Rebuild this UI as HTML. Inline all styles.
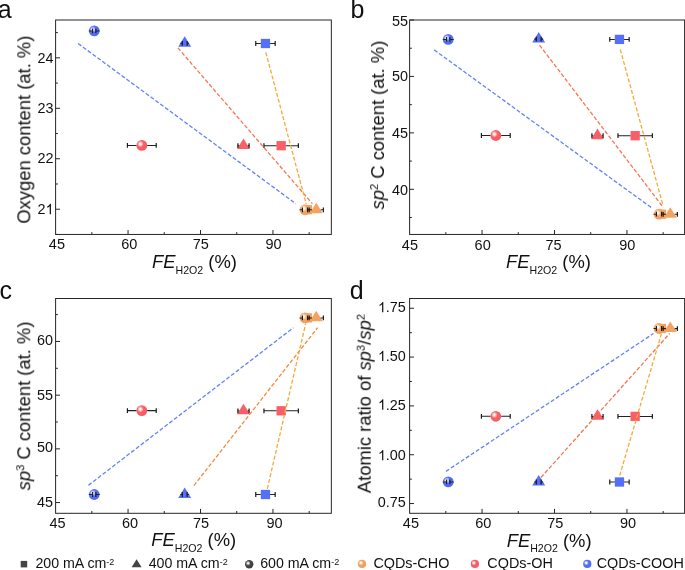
<!DOCTYPE html>
<html><head><meta charset="utf-8"><style>
html,body{margin:0;padding:0;background:#fff;width:685px;height:570px;overflow:hidden}
svg{display:block}
text{font-family:"Liberation Sans", sans-serif;fill:#111}
svg text{will-change:transform}
</style></head><body>
<svg width="685" height="570" viewBox="0 0 685 570">
<defs>
<radialGradient id="gB" cx="0.37" cy="0.37" r="0.66" fx="0.37" fy="0.37"><stop offset="0" stop-color="#ffffff"/><stop offset="0.12" stop-color="#f4f6ff"/><stop offset="0.45" stop-color="#5672fa"/><stop offset="1" stop-color="#4d69f4"/></radialGradient>
<radialGradient id="gR" cx="0.37" cy="0.37" r="0.66" fx="0.37" fy="0.37"><stop offset="0" stop-color="#ffffff"/><stop offset="0.12" stop-color="#fff2f3"/><stop offset="0.45" stop-color="#fa6068"/><stop offset="1" stop-color="#f55a63"/></radialGradient>
<radialGradient id="gO" cx="0.37" cy="0.37" r="0.66" fx="0.37" fy="0.37"><stop offset="0" stop-color="#ffffff"/><stop offset="0.12" stop-color="#fff8f2"/><stop offset="0.45" stop-color="#f5a465"/><stop offset="1" stop-color="#f09d5c"/></radialGradient>
<radialGradient id="gK" cx="0.37" cy="0.37" r="0.66" fx="0.37" fy="0.37"><stop offset="0" stop-color="#ffffff"/><stop offset="0.12" stop-color="#e8e8e8"/><stop offset="0.45" stop-color="#474747"/><stop offset="1" stop-color="#3c3c3c"/></radialGradient>
</defs>
<path d="M55.60,209.22 h4.4 M55.60,158.76 h4.4 M55.60,108.30 h4.4 M55.60,57.84 h4.4 M55.60,234.45 h2.3 M55.60,183.99 h2.3 M55.60,133.53 h2.3 M55.60,83.07 h2.3 M55.60,32.61 h2.3 M128.05,234.45 v-4.4 M200.50,234.45 v-4.4 M272.95,234.45 v-4.4 M91.83,234.45 v-2.3 M164.28,234.45 v-2.3 M236.72,234.45 v-2.3 M309.18,234.45 v-2.3" stroke="#262626" stroke-width="1" fill="none"/>
<text x="37.38" y="214.15" font-size="14.4">2</text>
<path d="M50.94,214.15 L49.71,214.15 L49.71,206.16 C49.06,206.78 48.13,207.38 47.19,207.74 L47.19,206.52 C48.49,205.94 49.57,204.93 50.14,203.84 L50.94,203.84 Z" fill="#111"/>
<text x="53.40" y="163.40" text-anchor="end" font-size="14.4">22</text>
<text x="53.40" y="113.10" text-anchor="end" font-size="14.4">23</text>
<text x="53.40" y="63.00" text-anchor="end" font-size="14.4">24</text>
<text x="56.90" y="248.75" text-anchor="middle" font-size="14.5">45</text>
<text x="129.35" y="248.75" text-anchor="middle" font-size="14.5">60</text>
<text x="200.70" y="248.75" text-anchor="middle" font-size="14.5">75</text>
<text x="273.55" y="248.75" text-anchor="middle" font-size="14.5">90</text>
<rect x="260.81" y="38.85" width="9.3" height="9.3" fill="#5470f8"/>
<rect x="276.51" y="141.05" width="9.3" height="9.3" fill="#f95f68"/>
<rect x="302.74" y="205.05" width="9.3" height="9.3" fill="#f4a361"/>
<path d="M184.71,36.20 L191.21,46.75 L178.21,46.75 Z" fill="#5470f8"/>
<path d="M243.49,138.50 L249.99,149.05 L236.99,149.05 Z" fill="#f95f68"/>
<path d="M316.28,202.70 L322.78,213.25 L309.78,213.25 Z" fill="#f4a361"/>
<circle cx="94.24" cy="30.90" r="5.4" fill="url(#gB)"/>
<circle cx="141.82" cy="145.40" r="5.4" fill="url(#gR)"/>
<circle cx="305.02" cy="209.80" r="5.4" fill="url(#gO)"/>
<path d="M255.76,43.50 L260.81,43.50 M275.16,43.50 L270.11,43.50" stroke="#222" stroke-width="1.05" fill="none"/>
<path d="M255.76,41.10 V45.90 M275.16,41.10 V45.90" stroke="#1a1a1a" stroke-width="1.2" fill="none"/>
<path d="M263.96,145.70 L276.51,145.70 M298.36,145.70 L285.81,145.70" stroke="#222" stroke-width="1.05" fill="none"/>
<path d="M263.96,143.30 V148.10 M298.36,143.30 V148.10" stroke="#1a1a1a" stroke-width="1.2" fill="none"/>
<path d="M182.31,43.30 L180.31,43.30 M187.11,43.30 L189.11,43.30" stroke="#222" stroke-width="1.05" fill="none"/>
<path d="M182.31,40.90 V45.70 M187.11,40.90 V45.70" stroke="#1a1a1a" stroke-width="1.2" fill="none"/>
<path d="M237.89,145.60 L239.09,145.60 M249.09,145.60 L247.89,145.60" stroke="#222" stroke-width="1.05" fill="none"/>
<path d="M237.89,143.20 V148.00 M249.09,143.20 V148.00" stroke="#1a1a1a" stroke-width="1.2" fill="none"/>
<path d="M309.18,209.80 L311.88,209.80 M323.38,209.80 L320.68,209.80" stroke="#222" stroke-width="1.05" fill="none"/>
<path d="M309.18,207.40 V212.20 M323.38,207.40 V212.20" stroke="#1a1a1a" stroke-width="1.2" fill="none"/>
<path d="M92.64,30.90 L88.84,30.90 M95.84,30.90 L99.64,30.90" stroke="#222" stroke-width="1.05" fill="none"/>
<path d="M92.64,28.50 V33.30 M95.84,28.50 V33.30" stroke="#1a1a1a" stroke-width="1.2" fill="none"/>
<path d="M127.42,145.40 L136.42,145.40 M156.22,145.40 L147.22,145.40" stroke="#222" stroke-width="1.05" fill="none"/>
<path d="M127.42,143.00 V147.80 M156.22,143.00 V147.80" stroke="#1a1a1a" stroke-width="1.2" fill="none"/>
<path d="M302.42,209.80 L299.62,209.80 M307.62,209.80 L310.42,209.80" stroke="#222" stroke-width="1.05" fill="none"/>
<path d="M302.42,207.40 V212.20 M307.62,207.40 V212.20" stroke="#1a1a1a" stroke-width="1.2" fill="none"/>
<line x1="78.1" y1="43.5" x2="295.8" y2="203.7" stroke="#6482f8" stroke-width="1.3" stroke-dasharray="4 2"/>
<line x1="177.9" y1="47.9" x2="312.4" y2="203.7" stroke="#f5764e" stroke-width="1.3" stroke-dasharray="4 2"/>
<line x1="265.8" y1="52.4" x2="306.3" y2="204.3" stroke="#f6a93a" stroke-width="1.3" stroke-dasharray="4 2"/>
<rect x="55.60" y="20.00" width="275.75" height="214.45" fill="none" stroke="#262626" stroke-width="1"/>
<path d="M409.60,189.30 h4.4 M409.60,132.87 h4.4 M409.60,76.43 h4.4 M409.60,20.00 h4.4 M409.60,217.52 h2.3 M409.60,161.09 h2.3 M409.60,104.65 h2.3 M409.60,48.22 h2.3 M482.05,234.45 v-4.4 M554.50,234.45 v-4.4 M626.95,234.45 v-4.4 M445.83,234.45 v-2.3 M518.27,234.45 v-2.3 M590.73,234.45 v-2.3 M663.18,234.45 v-2.3" stroke="#262626" stroke-width="1" fill="none"/>
<text x="407.90" y="194.50" text-anchor="end" font-size="14.4">40</text>
<text x="407.90" y="137.65" text-anchor="end" font-size="14.4">45</text>
<text x="407.90" y="80.70" text-anchor="end" font-size="14.4">50</text>
<text x="407.90" y="26.05" text-anchor="end" font-size="14.4">55</text>
<text x="409.90" y="249.95" text-anchor="middle" font-size="14.5">45</text>
<text x="482.65" y="249.95" text-anchor="middle" font-size="14.5">60</text>
<text x="553.60" y="249.95" text-anchor="middle" font-size="14.5">75</text>
<text x="627.25" y="249.95" text-anchor="middle" font-size="14.5">90</text>
<rect x="614.81" y="34.75" width="9.3" height="9.3" fill="#5470f8"/>
<rect x="630.51" y="131.05" width="9.3" height="9.3" fill="#f95f68"/>
<rect x="656.74" y="209.55" width="9.3" height="9.3" fill="#f4a361"/>
<path d="M538.71,32.00 L545.21,42.55 L532.21,42.55 Z" fill="#5470f8"/>
<path d="M597.49,128.60 L603.99,139.15 L590.99,139.15 Z" fill="#f95f68"/>
<path d="M670.28,207.20 L676.78,217.75 L663.78,217.75 Z" fill="#f4a361"/>
<circle cx="448.24" cy="39.40" r="5.4" fill="url(#gB)"/>
<circle cx="495.82" cy="135.50" r="5.4" fill="url(#gR)"/>
<circle cx="659.02" cy="214.20" r="5.4" fill="url(#gO)"/>
<path d="M609.76,39.40 L614.81,39.40 M629.16,39.40 L624.11,39.40" stroke="#222" stroke-width="1.05" fill="none"/>
<path d="M609.76,37.00 V41.80 M629.16,37.00 V41.80" stroke="#1a1a1a" stroke-width="1.2" fill="none"/>
<path d="M617.96,135.70 L630.51,135.70 M652.36,135.70 L639.81,135.70" stroke="#222" stroke-width="1.05" fill="none"/>
<path d="M617.96,133.30 V138.10 M652.36,133.30 V138.10" stroke="#1a1a1a" stroke-width="1.2" fill="none"/>
<path d="M536.31,39.10 L534.31,39.10 M541.11,39.10 L543.11,39.10" stroke="#222" stroke-width="1.05" fill="none"/>
<path d="M536.31,36.70 V41.50 M541.11,36.70 V41.50" stroke="#1a1a1a" stroke-width="1.2" fill="none"/>
<path d="M591.89,135.70 L593.09,135.70 M603.09,135.70 L601.89,135.70" stroke="#222" stroke-width="1.05" fill="none"/>
<path d="M591.89,133.30 V138.10 M603.09,133.30 V138.10" stroke="#1a1a1a" stroke-width="1.2" fill="none"/>
<path d="M663.18,214.30 L665.88,214.30 M677.38,214.30 L674.68,214.30" stroke="#222" stroke-width="1.05" fill="none"/>
<path d="M663.18,211.90 V216.70 M677.38,211.90 V216.70" stroke="#1a1a1a" stroke-width="1.2" fill="none"/>
<path d="M446.64,39.40 L442.84,39.40 M449.84,39.40 L453.64,39.40" stroke="#222" stroke-width="1.05" fill="none"/>
<path d="M446.64,37.00 V41.80 M449.84,37.00 V41.80" stroke="#1a1a1a" stroke-width="1.2" fill="none"/>
<path d="M481.42,135.50 L490.42,135.50 M510.22,135.50 L501.22,135.50" stroke="#222" stroke-width="1.05" fill="none"/>
<path d="M481.42,133.10 V137.90 M510.22,133.10 V137.90" stroke="#1a1a1a" stroke-width="1.2" fill="none"/>
<path d="M656.42,214.20 L653.62,214.20 M661.62,214.20 L664.42,214.20" stroke="#222" stroke-width="1.05" fill="none"/>
<path d="M656.42,211.80 V216.60 M661.62,211.80 V216.60" stroke="#1a1a1a" stroke-width="1.2" fill="none"/>
<line x1="434.2" y1="49.9" x2="651.2" y2="207.5" stroke="#6482f8" stroke-width="1.3" stroke-dasharray="4 2"/>
<line x1="539.5" y1="45.1" x2="663.3" y2="207.5" stroke="#f5764e" stroke-width="1.3" stroke-dasharray="4 2"/>
<line x1="620.3" y1="49.5" x2="663.0" y2="205.3" stroke="#f6a93a" stroke-width="1.3" stroke-dasharray="4 2"/>
<rect x="409.60" y="20.00" width="275.00" height="214.45" fill="none" stroke="#262626" stroke-width="1"/>
<path d="M55.60,502.56 h4.4 M55.60,448.86 h4.4 M55.60,395.16 h4.4 M55.60,341.46 h4.4 M55.60,475.71 h2.3 M55.60,422.01 h2.3 M55.60,368.31 h2.3 M55.60,314.61 h2.3 M128.05,513.30 v-4.4 M200.50,513.30 v-4.4 M272.95,513.30 v-4.4 M91.83,513.30 v-2.3 M164.28,513.30 v-2.3 M236.72,513.30 v-2.3 M309.18,513.30 v-2.3" stroke="#262626" stroke-width="1" fill="none"/>
<text x="52.90" y="506.90" text-anchor="end" font-size="14.4">45</text>
<text x="52.90" y="452.05" text-anchor="end" font-size="14.4">50</text>
<text x="52.90" y="399.50" text-anchor="end" font-size="14.4">55</text>
<text x="52.90" y="344.70" text-anchor="end" font-size="14.4">60</text>
<text x="57.50" y="527.70" text-anchor="middle" font-size="14.5">45</text>
<text x="130.05" y="527.70" text-anchor="middle" font-size="14.5">60</text>
<text x="201.10" y="527.70" text-anchor="middle" font-size="14.5">75</text>
<text x="274.45" y="527.70" text-anchor="middle" font-size="14.5">90</text>
<rect x="260.81" y="489.85" width="9.3" height="9.3" fill="#5470f8"/>
<rect x="276.51" y="406.15" width="9.3" height="9.3" fill="#f95f68"/>
<rect x="302.74" y="313.25" width="9.3" height="9.3" fill="#f4a361"/>
<path d="M184.71,487.40 L191.21,497.95 L178.21,497.95 Z" fill="#5470f8"/>
<path d="M243.49,403.70 L249.99,414.25 L236.99,414.25 Z" fill="#f95f68"/>
<path d="M316.28,310.80 L322.78,321.35 L309.78,321.35 Z" fill="#f4a361"/>
<circle cx="94.24" cy="494.50" r="5.4" fill="url(#gB)"/>
<circle cx="141.82" cy="410.60" r="5.4" fill="url(#gR)"/>
<circle cx="305.02" cy="317.90" r="5.4" fill="url(#gO)"/>
<path d="M255.76,494.50 L260.81,494.50 M275.16,494.50 L270.11,494.50" stroke="#222" stroke-width="1.05" fill="none"/>
<path d="M255.76,492.10 V496.90 M275.16,492.10 V496.90" stroke="#1a1a1a" stroke-width="1.2" fill="none"/>
<path d="M263.96,410.80 L276.51,410.80 M298.36,410.80 L285.81,410.80" stroke="#222" stroke-width="1.05" fill="none"/>
<path d="M263.96,408.40 V413.20 M298.36,408.40 V413.20" stroke="#1a1a1a" stroke-width="1.2" fill="none"/>
<path d="M182.31,494.50 L180.31,494.50 M187.11,494.50 L189.11,494.50" stroke="#222" stroke-width="1.05" fill="none"/>
<path d="M182.31,492.10 V496.90 M187.11,492.10 V496.90" stroke="#1a1a1a" stroke-width="1.2" fill="none"/>
<path d="M237.89,410.80 L239.09,410.80 M249.09,410.80 L247.89,410.80" stroke="#222" stroke-width="1.05" fill="none"/>
<path d="M237.89,408.40 V413.20 M249.09,408.40 V413.20" stroke="#1a1a1a" stroke-width="1.2" fill="none"/>
<path d="M309.18,317.90 L311.88,317.90 M323.38,317.90 L320.68,317.90" stroke="#222" stroke-width="1.05" fill="none"/>
<path d="M309.18,315.50 V320.30 M323.38,315.50 V320.30" stroke="#1a1a1a" stroke-width="1.2" fill="none"/>
<path d="M92.64,494.50 L88.84,494.50 M95.84,494.50 L99.64,494.50" stroke="#222" stroke-width="1.05" fill="none"/>
<path d="M92.64,492.10 V496.90 M95.84,492.10 V496.90" stroke="#1a1a1a" stroke-width="1.2" fill="none"/>
<path d="M127.42,410.60 L136.42,410.60 M156.22,410.60 L147.22,410.60" stroke="#222" stroke-width="1.05" fill="none"/>
<path d="M127.42,408.20 V413.00 M156.22,408.20 V413.00" stroke="#1a1a1a" stroke-width="1.2" fill="none"/>
<path d="M302.42,317.90 L299.62,317.90 M307.62,317.90 L310.42,317.90" stroke="#222" stroke-width="1.05" fill="none"/>
<path d="M302.42,315.50 V320.30 M307.62,315.50 V320.30" stroke="#1a1a1a" stroke-width="1.2" fill="none"/>
<line x1="88.4" y1="485.3" x2="293.4" y2="327.7" stroke="#6482f8" stroke-width="1.3" stroke-dasharray="4 2"/>
<line x1="193.9" y1="485.6" x2="317.6" y2="327.7" stroke="#f8873a" stroke-width="1.3" stroke-dasharray="4 2"/>
<line x1="267.3" y1="488.8" x2="305.7" y2="323.5" stroke="#f6a93a" stroke-width="1.3" stroke-dasharray="4 2"/>
<rect x="55.60" y="298.50" width="275.75" height="214.80" fill="none" stroke="#262626" stroke-width="1"/>
<path d="M409.60,503.54 h4.4 M409.60,454.72 h4.4 M409.60,405.90 h4.4 M409.60,357.08 h4.4 M409.60,308.26 h4.4 M409.60,479.13 h2.3 M409.60,430.31 h2.3 M409.60,381.49 h2.3 M409.60,332.67 h2.3 M482.05,513.30 v-4.4 M554.50,513.30 v-4.4 M626.95,513.30 v-4.4 M445.83,513.30 v-2.3 M518.27,513.30 v-2.3 M590.73,513.30 v-2.3 M663.18,513.30 v-2.3" stroke="#262626" stroke-width="1" fill="none"/>
<text x="405.80" y="507.10" text-anchor="end" font-size="14.4">0.75</text>
<path d="M383.32,460.30 L382.09,460.30 L382.09,452.31 C381.45,452.93 380.51,453.53 379.57,453.89 L379.57,452.67 C380.87,452.09 381.95,451.08 382.53,449.99 L383.32,449.99 Z" fill="#111"/>
<text x="385.78" y="460.30" font-size="14.4">.00</text>
<path d="M383.32,409.65 L382.09,409.65 L382.09,401.66 C381.45,402.28 380.51,402.88 379.57,403.24 L379.57,402.02 C380.87,401.44 381.95,400.43 382.53,399.34 L383.32,399.34 Z" fill="#111"/>
<text x="385.78" y="409.65" font-size="14.4">.25</text>
<path d="M383.32,361.10 L382.09,361.10 L382.09,353.11 C381.45,353.73 380.51,354.33 379.57,354.69 L379.57,353.47 C380.87,352.89 381.95,351.88 382.53,350.79 L383.32,350.79 Z" fill="#111"/>
<text x="385.78" y="361.10" font-size="14.4">.50</text>
<path d="M383.32,312.35 L382.09,312.35 L382.09,304.36 C381.45,304.98 380.51,305.58 379.57,305.94 L379.57,304.72 C380.87,304.14 381.95,303.13 382.53,302.04 L383.32,302.04 Z" fill="#111"/>
<text x="385.78" y="312.35" font-size="14.4">.75</text>
<text x="410.90" y="527.60" text-anchor="middle" font-size="14.5">45</text>
<text x="483.35" y="527.60" text-anchor="middle" font-size="14.5">60</text>
<text x="555.20" y="527.60" text-anchor="middle" font-size="14.5">75</text>
<text x="627.95" y="527.60" text-anchor="middle" font-size="14.5">90</text>
<rect x="614.81" y="477.35" width="9.3" height="9.3" fill="#5470f8"/>
<rect x="630.51" y="411.75" width="9.3" height="9.3" fill="#f95f68"/>
<rect x="656.74" y="323.85" width="9.3" height="9.3" fill="#f4a361"/>
<path d="M538.71,474.90 L545.21,485.45 L532.21,485.45 Z" fill="#5470f8"/>
<path d="M597.49,409.30 L603.99,419.85 L590.99,419.85 Z" fill="#f95f68"/>
<path d="M670.28,321.50 L676.78,332.05 L663.78,332.05 Z" fill="#f4a361"/>
<circle cx="448.24" cy="481.90" r="5.4" fill="url(#gB)"/>
<circle cx="495.82" cy="416.30" r="5.4" fill="url(#gR)"/>
<circle cx="659.02" cy="328.50" r="5.4" fill="url(#gO)"/>
<path d="M609.76,482.00 L614.81,482.00 M629.16,482.00 L624.11,482.00" stroke="#222" stroke-width="1.05" fill="none"/>
<path d="M609.76,479.60 V484.40 M629.16,479.60 V484.40" stroke="#1a1a1a" stroke-width="1.2" fill="none"/>
<path d="M617.96,416.40 L630.51,416.40 M652.36,416.40 L639.81,416.40" stroke="#222" stroke-width="1.05" fill="none"/>
<path d="M617.96,414.00 V418.80 M652.36,414.00 V418.80" stroke="#1a1a1a" stroke-width="1.2" fill="none"/>
<path d="M536.31,482.00 L534.31,482.00 M541.11,482.00 L543.11,482.00" stroke="#222" stroke-width="1.05" fill="none"/>
<path d="M536.31,479.60 V484.40 M541.11,479.60 V484.40" stroke="#1a1a1a" stroke-width="1.2" fill="none"/>
<path d="M591.89,416.40 L593.09,416.40 M603.09,416.40 L601.89,416.40" stroke="#222" stroke-width="1.05" fill="none"/>
<path d="M591.89,414.00 V418.80 M603.09,414.00 V418.80" stroke="#1a1a1a" stroke-width="1.2" fill="none"/>
<path d="M663.18,328.60 L665.88,328.60 M677.38,328.60 L674.68,328.60" stroke="#222" stroke-width="1.05" fill="none"/>
<path d="M663.18,326.20 V331.00 M677.38,326.20 V331.00" stroke="#1a1a1a" stroke-width="1.2" fill="none"/>
<path d="M446.64,481.90 L442.84,481.90 M449.84,481.90 L453.64,481.90" stroke="#222" stroke-width="1.05" fill="none"/>
<path d="M446.64,479.50 V484.30 M449.84,479.50 V484.30" stroke="#1a1a1a" stroke-width="1.2" fill="none"/>
<path d="M481.42,416.30 L490.42,416.30 M510.22,416.30 L501.22,416.30" stroke="#222" stroke-width="1.05" fill="none"/>
<path d="M481.42,413.90 V418.70 M510.22,413.90 V418.70" stroke="#1a1a1a" stroke-width="1.2" fill="none"/>
<path d="M656.42,328.50 L653.62,328.50 M661.62,328.50 L664.42,328.50" stroke="#222" stroke-width="1.05" fill="none"/>
<path d="M656.42,326.10 V330.90 M661.62,326.10 V330.90" stroke="#1a1a1a" stroke-width="1.2" fill="none"/>
<line x1="445.9" y1="471.4" x2="653.5" y2="333.5" stroke="#6482f8" stroke-width="1.3" stroke-dasharray="4 2"/>
<line x1="541" y1="477.5" x2="669.6" y2="333.5" stroke="#f5764e" stroke-width="1.3" stroke-dasharray="4 2"/>
<line x1="619.7" y1="475.5" x2="661.4" y2="333.8" stroke="#f6a93a" stroke-width="1.3" stroke-dasharray="4 2"/>
<rect x="409.60" y="298.50" width="275.00" height="214.80" fill="none" stroke="#262626" stroke-width="1"/>
<text x="152.0" y="268.0" font-size="18.4"><tspan font-style="italic">FE</tspan><tspan font-size="10.6" dy="5.8">H2O2</tspan><tspan dy="-5.8"> (%)</tspan></text>
<text x="506.0" y="268.0" font-size="18.4"><tspan font-style="italic">FE</tspan><tspan font-size="10.6" dy="5.8">H2O2</tspan><tspan dy="-5.8"> (%)</tspan></text>
<text x="151.3" y="546.1" font-size="18.4"><tspan font-style="italic">FE</tspan><tspan font-size="10.6" dy="5.8">H2O2</tspan><tspan dy="-5.8"> (%)</tspan></text>
<text x="506.7" y="546.5" font-size="18.4"><tspan font-style="italic">FE</tspan><tspan font-size="10.6" dy="5.8">H2O2</tspan><tspan dy="-5.8"> (%)</tspan></text>
<text transform="translate(30.3,223.7) rotate(-90)" font-size="18.4">Oxygen content (at. %)</text>
<text transform="translate(384,209.5) rotate(-90)" font-size="18.4"><tspan font-style="italic">sp</tspan><tspan font-size="11.2" dy="-5.7">2</tspan><tspan dy="5.7"> C content (at. %)</tspan></text>
<text transform="translate(30.2,490.4) rotate(-90)" font-size="18.4"><tspan font-style="italic">sp</tspan><tspan font-size="11.2" dy="-5.7">3</tspan><tspan dy="5.7"> C content (at. %)</tspan></text>
<text transform="translate(370.7,493.2) rotate(-90)" font-size="18.4">Atomic ratio of <tspan font-style="italic">sp</tspan><tspan font-size="11.2" dy="-5.7">3</tspan><tspan dy="5.7">/</tspan><tspan font-style="italic">sp</tspan><tspan font-size="11.2" dy="-5.7">2</tspan></text>
<text x="-2.2" y="17.6" font-size="25">a</text>
<text x="350.4" y="17.6" font-size="25">b</text>
<text x="-0.5" y="298.7" font-size="25">c</text>
<text x="349.8" y="298.6" font-size="25">d</text>
<rect x="20.7" y="560.9" width="6.5" height="6.5" fill="#444"/>
<text x="35.4" y="568.4" font-size="14.2">200 mA cm<tspan font-size="9" dy="-3.7">-2</tspan></text>
<path d="M136.6,559.2 L141.6,567.2 L131.6,567.2 Z" fill="#444"/>
<text x="148.7" y="568.4" font-size="14.2">400 mA cm<tspan font-size="9" dy="-3.7">-2</tspan></text>
<circle cx="249.2" cy="564.3" r="4.2" fill="url(#gK)"/>
<text x="260.2" y="568.4" font-size="14.2">600 mA cm<tspan font-size="9" dy="-3.7">-2</tspan></text>
<circle cx="362" cy="563.9" r="4.1" fill="url(#gO)"/>
<text x="373.4" y="568.4" font-size="14.4">CQDs-CHO</text>
<circle cx="474.9" cy="563.9" r="4.1" fill="url(#gR)"/>
<text x="487.3" y="568.4" font-size="14.4">CQDs-OH</text>
<circle cx="587.3" cy="563.9" r="4.1" fill="url(#gB)"/>
<text x="596.7" y="568.4" font-size="14.4">CQDs-COOH</text>
</svg>
</body></html>
